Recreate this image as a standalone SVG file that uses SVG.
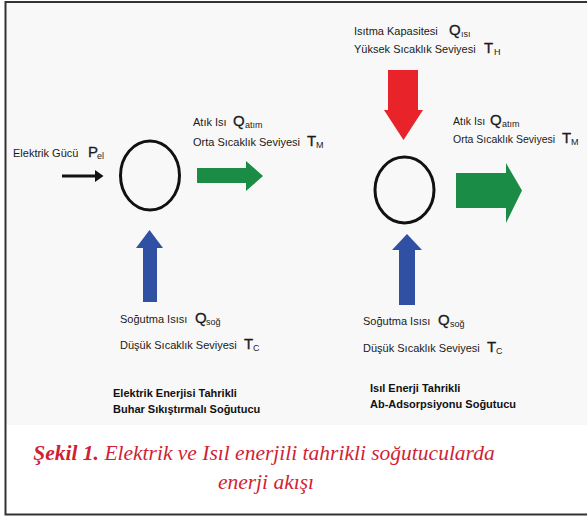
<svg xmlns="http://www.w3.org/2000/svg" width="587" height="517" viewBox="0 0 587 517">
<defs>
<style>
.lbl{font-family:"Liberation Sans",Arial,sans-serif;font-size:11px;fill:#1a1a1a}
.sm{font-size:10.5px}
.q{font-family:"Liberation Sans",Arial,sans-serif;font-size:15px;fill:#1a1a1a;stroke:#1a1a1a;stroke-width:0.3}
.sub{font-family:"Liberation Sans",Arial,sans-serif;font-size:9px;fill:#1a1a1a}
.bold{font-family:"Liberation Sans",Arial,sans-serif;font-size:11px;font-weight:bold;fill:#111}
.cap{font-family:"Liberation Serif","Times New Roman",serif;font-style:italic;font-size:21.5px;fill:#d11f35}
.node{fill:none;stroke:#111;stroke-width:3}
.green{fill:#1b8c45}
.blue{fill:#3050a3}
.red{fill:#e8232a}
</style>
</defs>
<rect x="0" y="0" width="587" height="517" fill="#ffffff"/>
<rect x="5" y="2" width="582" height="423" fill="#f8f8f8"/>
<path d="M587 2 H5.5 V514.5 H587" fill="none" stroke="#333" stroke-width="2"/>

<g id="node-left">
<ellipse class="node" cx="150" cy="175.5" rx="29.5" ry="34.5"/>
</g>
<g id="node-right">
<ellipse class="node" cx="404.5" cy="190" rx="29.5" ry="33"/>
</g>

<g id="connectors">
<path d="M62 174.5 H95 V170 L103.5 176 L95 182 V177.5 H62 Z" fill="#111"/>
<path class="green" d="M197 168 H246 V161 L263 176 L246 191 V183 H197 Z"/>
<path class="blue" d="M143 302 V248 H136 L149.5 230 L163 248 H157 V302 Z"/>
<path class="red" d="M388 70 H418 V110 H423 L403.5 140 L384 110 H388 Z"/>
<path class="green" d="M456 173 H506 V163 L522 190.5 L506 223 V208 H456 Z"/>
<path class="blue" d="M399 305 V250 H392 L407 234 L422 250 H415 V305 Z"/>
</g>

<g id="labels">
<text class="lbl" x="13" y="157">Elektrik Gücü</text>
<text class="q" x="88" y="157">P</text><text class="sub" x="97" y="159">el</text>

<text class="lbl" x="193" y="126">Atık Isı</text>
<text class="q" x="233" y="126">Q</text><text class="sub" x="245" y="128">atım</text>
<text class="lbl" x="193" y="146">Orta Sıcaklık Seviyesi</text>
<text class="q" x="307" y="146">T</text><text class="sub" x="316" y="148">M</text>

<text class="lbl" x="120" y="323">Soğutma Isısı</text>
<text class="q" x="195" y="323">Q</text><text class="sub" x="206" y="325">soğ</text>
<text class="lbl" x="120" y="349">Düşük Sıcaklık Seviyesi</text>
<text class="q" x="244" y="349">T</text><text class="sub" x="253" y="351">C</text>

<text class="bold" x="113" y="397">Elektrik  Enerjisi  Tahrikli</text>
<text class="bold" x="113" y="413">Buhar Sıkıştırmalı Soğutucu</text>

<text class="lbl" x="354" y="35">Isıtma Kapasitesi</text>
<text class="q" x="449" y="35">Q</text><text class="sub" x="461" y="37">ısı</text>
<text class="lbl" x="354" y="53">Yüksek Sıcaklık Seviyesi</text>
<text class="q" x="484" y="53">T</text><text class="sub" x="494" y="55">H</text>

<text class="lbl sm" x="453" y="125">Atık Isı</text>
<text class="q" x="490" y="125">Q</text><text class="sub" x="502" y="127">atım</text>
<text class="lbl sm" x="453" y="143">Orta Sıcaklık Seviyesi</text>
<text class="q" x="562" y="143">T</text><text class="sub" x="571" y="145">M</text>

<text class="lbl" x="363" y="325">Soğutma Isısı</text>
<text class="q" x="438" y="325">Q</text><text class="sub" x="450" y="327">soğ</text>
<text class="lbl" x="363" y="352">Düşük Sıcaklık Seviyesi</text>
<text class="q" x="487" y="352">T</text><text class="sub" x="496" y="354">C</text>

<text class="bold" x="370" y="392">Isıl Enerji Tahrikli</text>
<text class="bold" x="370" y="408">Ab-Adsorpsiyonu Soğutucu</text>
</g>

<g id="caption">
<text class="cap" x="264" y="460" text-anchor="middle"><tspan font-weight="bold">Şekil 1.</tspan> Elektrik ve Isıl enerjili tahrikli soğutucularda</text>
<text class="cap" x="266" y="489" text-anchor="middle">enerji akışı</text>
</g>
</svg>
